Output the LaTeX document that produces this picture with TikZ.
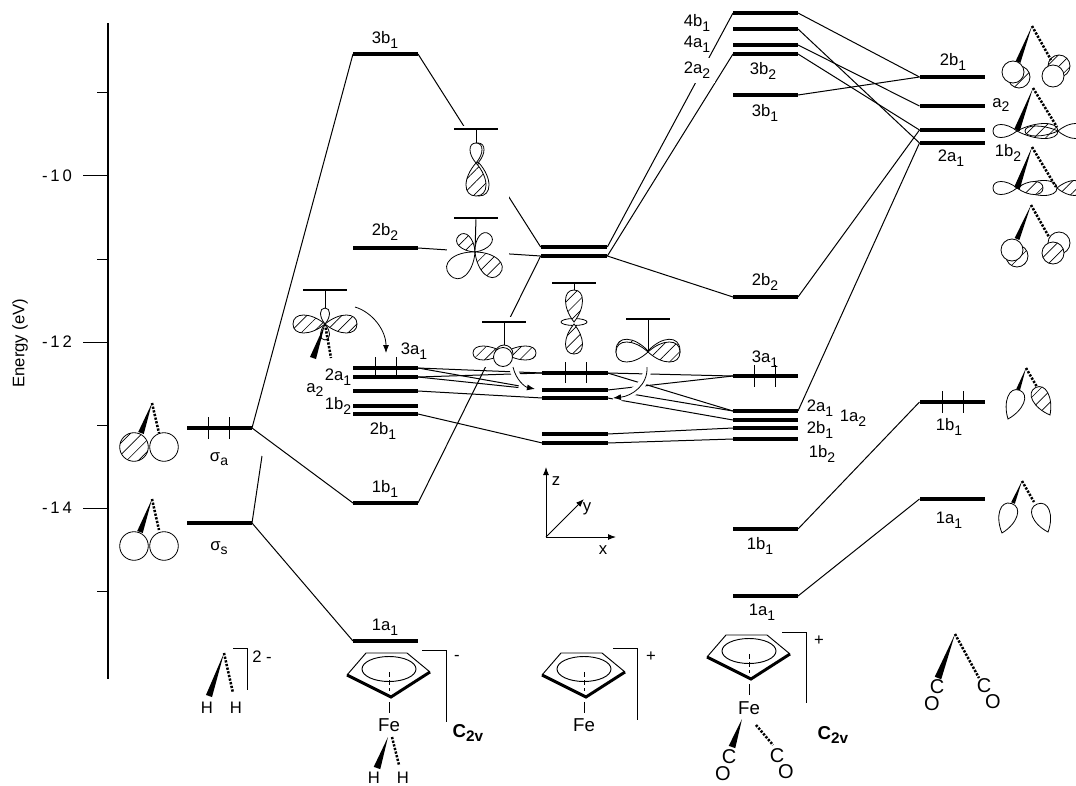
\documentclass[tikz,border=0pt]{standalone}
\usepackage{fontspec}
\setmainfont{Liberation Sans}
\usetikzlibrary{arrows.meta,calc,patterns.meta}
\newcounter{labn}
\tikzset{
  lev/.style={rectangle,fill=black,inner sep=0pt,outer sep=0pt,minimum width=48.75pt,minimum height=3pt},
  olev/.style={rectangle,fill=black,inner sep=0pt,outer sep=0pt,minimum width=33pt,minimum height=2.2pt},
  conn/.style={line width=.75pt},
  lbl/.style={inner sep=0pt,outer sep=0pt,font=\fontsize{12.5}{14}\selectfont},
  orb/.style={draw,line width=.6pt},
  wht/.style={fill=white},
  hat/.style={preaction={fill=white},pattern={Lines[angle=45,distance=6.2pt,line width=.5pt]}},
  dwedge/.style={line width=1.9pt,dash pattern=on 1.7pt off 1.1pt},
  tick/.style={line width=.75pt},
  spin/.style={line width=.6pt},
  brk/.style={line width=.6pt},
  curv/.style={line width=.6pt,-{Latex[length=6pt,width=4.5pt]},preaction={draw=white,line width=6pt,-}},
  axarr/.style={line width=.75pt,-{Latex[length=6pt,width=4.5pt]}}
}
\newcommand\ls[2]{#1\raisebox{-3.5pt}{\fontsize{10.5}{12}\selectfont #2}}
\newcommand\lab[3]{\stepcounter{labn}\node[lbl] (lab\thelabn) at (#1,#2) {#3};}
\newcommand\tfe{\fontsize{14}{16}\selectfont}
\newcommand\tco{\fontsize{15}{17}\selectfont}
\newcommand\lobe[6]{\begin{scope}[shift={(#2,#3)},rotate=#4]\path[orb,#1] (0,0) .. controls ({.45*#5},{#6/.75}) and ({#5},{#6/.75}) .. ({#5},0) .. controls ({#5},{-#6/.75}) and ({.45*#5},{-#6/.75}) .. (0,0) -- cycle;\end{scope}}
\newcommand\wg[5]{\fill ($(#1,#2)$) -- ($(#3,#4)!#5!90:(#1,#2)$) -- ($(#3,#4)!#5!-90:(#1,#2)$) -- cycle;}
\newcommand\dg[4]{\draw[dwedge] (#1,#2) -- (#3,#4);}
\newcommand\cpring[2]{\begin{scope}[shift={(#1,#2)}]
  \draw[line width=.7pt] (-42,6) -- (-23,-16) -- (18,-16) -- (41,3);
  \draw[line width=2.2pt,line join=miter] (-42,6) -- (2,28) -- (41,3);
  \draw[line width=.7pt] (0,0) ellipse [x radius=27,y radius=12.5];
  \draw[line width=.6pt,dash pattern=on 4pt off 2pt] (0,3) -- (0,22);
  \draw[line width=.7pt] (0,33) -- (0,44);
\end{scope}}
\begin{document}
\begin{tikzpicture}[x=.75pt,y=-.75pt]
\useasboundingbox (0,0) rectangle (1076,786);
\fill[white] (0,0) rectangle (1076,786);
% energy axis
\coordinate (axtop) at (108,23); \coordinate (axbot) at (108,679);
\draw[line width=1pt] (axtop) -- (axbot);
\foreach \yy in {92,259,425,591} \draw[tick] (97,\yy) -- (108,\yy);
\foreach \yy in {175,342,508} \draw[tick] (83,\yy) -- (108,\yy);
\lab{57}{176}{-\,1\,0}\lab{57}{342}{-\,1\,2}\lab{57}{508}{-\,1\,4}
\node[lbl,rotate=90] (elabel) at (20,343) {Energy (eV)};
% levels
\node[lev,minimum width=48.75pt] (sa) at (219.5,428) {};
\node[lev] (ss) at (219.5,523) {};
\node[lev] (b3b1) at (385.5,54) {};
\node[lev] (b2b2) at (385.5,248) {};
\node[lev] (b3a1) at (385.5,368) {};
\node[lev] (b2a1) at (385.5,377) {};
\node[lev] (ba2) at (385.5,391) {};
\node[lev] (b1b2) at (385.5,406) {};
\node[lev] (b2b1) at (385.5,414) {};
\node[lev] (b1b1) at (385.5,503) {};
\node[lev] (b1a1) at (385.5,641) {};
\node[lev,minimum width=50pt] (cu1) at (574,247) {};
\node[lev,minimum width=50pt] (cu2) at (574,256) {};
\node[lev,minimum width=49pt] (c3a1) at (575,373) {};
\node[lev,minimum width=49pt] (c2a1) at (575,390) {};
\node[lev,minimum width=49pt] (cb) at (575,398) {};
\node[lev,minimum width=49pt] (cc) at (575,434) {};
\node[lev,minimum width=49pt] (cd) at (575,443) {};
\node[lev] (d4b1) at (765.5,13) {};
\node[lev] (d4a1) at (765.5,29) {};
\node[lev] (d2a2) at (765.5,45) {};
\node[lev] (d3b2) at (765.5,54) {};
\node[lev] (d3b1) at (765.5,95) {};
\node[lev] (d2b2) at (765.5,297) {};
\node[lev] (d3a1) at (765.5,376) {};
\node[lev] (d2a1) at (765.5,411) {};
\node[lev] (d1a2) at (765.5,420) {};
\node[lev] (d2b1) at (765.5,428) {};
\node[lev] (d1b2) at (765.5,439) {};
\node[lev] (d1b1) at (765.5,529) {};
\node[lev] (d1a1) at (765.5,596) {};
\node[lev] (e2b1) at (952,77) {};
\node[lev] (ea2) at (952,106) {};
\node[lev] (e1b2) at (952,130) {};
\node[lev] (e2a1) at (952,143) {};
\node[lev] (e1b1) at (952,402) {};
\node[lev] (e1a1) at (952,499) {};
% connectors
\coordinate (ssfree) at (262,456);
\draw[conn] (sa.east) -- (b3b1.west);
\draw[conn] (sa.east) -- (b1b1.west);
\draw[conn] (ss.east) -- (ssfree);
\draw[conn] (ss.east) -- (b1a1.west);
\draw[conn] (b3b1.east) -- (cu1.west);
\draw[conn] (b2b2.east) -- (cu2.west);
\draw[conn] (b1b1.east) -- (cu2.west);
\draw[conn] (cu1.east) -- (d4b1.west);
\draw[conn] (cu2.east) -- (d3b2.west);
\draw[conn] (cu2.east) -- (d2b2.west);
\draw[conn] (d4b1.east) -- (e2b1.west);
\draw[conn] (d4a1.east) -- (e2a1.west);
\draw[conn] (d2a2.east) -- (ea2.west);
\draw[conn] (d3b2.east) -- (e1b2.west);
\draw[conn] (d3b1.east) -- (e2b1.west);
\draw[conn] (d2b2.east) -- (e1b2.west);
\draw[conn] (d2a1.east) -- (e2a1.west);
\draw[conn] (d1b1.east) -- (e1b1.west);
\draw[conn] (d1a1.east) -- (e1a1.west);
\draw[conn] (b3a1.east) -- (c3a1.west);
\draw[conn,shorten >=18pt] (b3a1.east) -- (c2a1.west);
\draw[conn] (b2a1.east) -- (c3a1.west);
\draw[conn,shorten >=18pt] (b2a1.east) -- (c2a1.west);
\draw[conn] (ba2.east) -- (cb.west);
\draw[conn] (b2b1.east) -- (cd.west);
\draw[conn] (c3a1.east) -- (d3a1.west);
\draw[conn] (c3a1.east) -- (d2a1.west);
\draw[conn] (c2a1.east) -- (d3a1.west);
\draw[conn,shorten <=20pt] (c2a1.east) -- (d2a1.west);
\draw[conn] (cb.east) -- (d1a2.west);
\draw[conn] (cc.east) -- (d2b1.west);
\draw[conn] (cd.east) -- (d1b2.west);
% white gaps in the connectors
\fill[white] (447,126) rectangle (509,306);
\fill[white] (470,317) rectangle (540,367);
\fill[white] (690,58) rectangle (715,83);
% curved arrows
\coordinate (a1s) at (513,367); \coordinate (a1e) at (535,389);
\coordinate (a2s) at (647,367); \coordinate (a2e) at (613,398);
\coordinate (a3s) at (355,307); \coordinate (a3e) at (386,353);
\draw[curv] (a1s) .. controls (516,380) and (525,387) .. (a1e);
\draw[curv] (a2s) .. controls (648,385) and (632,396) .. (a2e);
\draw[curv] (a3s) .. controls (372,312) and (386,330) .. (a3e);
% spins
\foreach \xx in {208,229} \draw[spin] (\xx,417) -- (\xx,439);
\foreach \xx in {375,396} \draw[spin] (\xx,357) -- (\xx,377);
\foreach \xx in {565,586} \draw[spin] (\xx,362) -- (\xx,383);
\foreach \xx in {754,775} \draw[spin] (\xx,365) -- (\xx,387);
\foreach \xx in {942,963} \draw[spin] (\xx,391) -- (\xx,413);
% labels on levels
\lab{385}{40}{\ls{3b}{1}}\lab{385}{232}{\ls{2b}{2}}\lab{414}{351}{\ls{3a}{1}}
\lab{338}{377}{\ls{2a}{1}}\lab{315}{390}{\ls{a}{2}}\lab{338}{406}{\ls{1b}{2}}
\lab{383}{431}{\ls{2b}{1}}\lab{385}{489}{\ls{1b}{1}}\lab{385}{627}{\ls{1a}{1}}
\lab{697}{23}{\ls{4b}{1}}\lab{697}{44}{\ls{4a}{1}}\lab{697}{70}{\ls{2a}{2}}
\lab{763}{71}{\ls{3b}{2}}\lab{765}{113}{\ls{3b}{1}}\lab{765}{282}{\ls{2b}{2}}
\lab{765}{359}{\ls{3a}{1}}\lab{820}{408}{\ls{2a}{1}}\lab{853}{418}{\ls{1a}{2}}
\lab{820}{430}{\ls{2b}{1}}\lab{822}{454}{\ls{1b}{2}}\lab{760}{546}{\ls{1b}{1}}
\lab{762}{612}{\ls{1a}{1}}
\lab{953}{62}{\ls{2b}{1}}\lab{1001}{105}{\ls{a}{2}}\lab{1008}{153}{\ls{1b}{2}}
\lab{951}{158}{\ls{2a}{1}}\lab{949}{427}{\ls{1b}{1}}\lab{949}{520}{\ls{1a}{1}}
\lab{219}{459}{\ls{σ}{a}}\lab{219}{548}{\ls{σ}{s}}
% H2 orbitals
\draw[orb,hat] (134,447) circle [radius=14.3];
\draw[orb,wht] (164,447) circle [radius=14.3];
\wg{152}{403}{141}{433}{2.2pt}\dg{152}{403}{159}{433}
\draw[orb,wht] (134,546) circle [radius=14.3];
\draw[orb,wht] (164,546) circle [radius=14.3];
\wg{152}{499}{140}{532}{2.2pt}\dg{152}{499}{159}{530}
% fragment orbitals
\node[olev] (o1) at (476,129) {};
\coordinate (o1c) at (476,143); \draw[conn] (o1) -- (o1c);
\lobe{wht}{478}{163}{90}{20}{6}\lobe{wht}{476}{163}{90}{20}{6}
\lobe{wht}{479}{163}{270}{33}{10}\lobe{hat}{476}{163}{270}{33}{10}
\node[olev] (o2) at (476,218) {};
\coordinate (o2c) at (475,252); \draw[conn] (o2) -- (o2c);
\lobe{hat}{475}{252}{135}{23}{7}\lobe{wht}{475}{252}{50}{23}{7}
\lobe{wht}{475}{252}{222}{34}{11}\lobe{hat}{475}{252}{318}{33}{10}
\node[olev] (o3) at (325,290) {};
\coordinate (o3c) at (325,310); \draw[conn] (o3) -- (o3c);
\lobe{wht}{325}{324}{270}{16}{4.5}
\wg{325}{324}{313}{358}{2.4pt}\dg{325}{324}{331}{358}
\lobe{hat}{325}{324}{180}{32}{9}\lobe{hat}{325}{324}{0}{32}{9}\lobe{wht}{325}{324}{90}{16}{4.5}
\node[olev] (o4) at (504,322) {};
\coordinate (o4c) at (504,345); \draw[conn] (o4) -- (o4c);
\lobe{hat}{504}{353}{180}{31}{7}\lobe{hat}{504}{353}{0}{32}{7}
\draw[orb,wht] (504,354) circle [radius=9];
\draw[orb,wht] (503,357) circle [radius=9.5];
\node[olev] (o5) at (574,283) {};
\coordinate (o5c) at (574,291); \draw[conn] (o5) -- (o5c);
\draw[orb,wht] (574,322) ellipse [x radius=13,y radius=3.5];
\lobe{hat}{574}{322}{90}{32}{8.5}\lobe{hat}{574}{324}{270}{30}{8.5}
\node[olev] (o6) at (648,319) {};
\coordinate (o6c) at (648,351); \draw[conn] (o6) -- (o6c);
\lobe{hat}{648}{351}{178}{32}{11}\lobe{wht}{648}{351}{2}{32}{11}
\lobe{wht}{648}{352}{180}{32}{10}\lobe{hat}{648}{352}{0}{32}{10}
% right-hand orbitals
\begin{scope}
\clip (0,0) rectangle (1076,786);
\draw[orb,hat] (1019,77) circle [radius=11];\draw[orb,wht] (1013,72) circle [radius=11];
\draw[orb,hat] (1059,66) circle [radius=11];\draw[orb,wht] (1053,76) circle [radius=11];
\wg{1032}{26}{1018}{62}{1.9pt}\dg{1032}{26}{1051}{60}
\lobe{wht}{1017}{131}{180}{24}{6.5}\lobe{hat}{1017}{131}{0}{41}{7.5}
\lobe{}{1058}{131}{180}{33}{5}\lobe{wht}{1058}{131}{0}{26}{7.5}
\wg{1033}{88}{1017}{130}{2.2pt}\dg{1033}{88}{1057}{127}
\lobe{wht}{1017}{188}{180}{24}{6.5}\lobe{wht}{1017}{188}{0}{40}{7.5}\lobe{hat}{1017}{188}{0}{26}{6.5}
\lobe{hat}{1057}{188}{0}{26}{7.5}
\wg{1032}{147}{1017}{188}{2.2pt}\dg{1032}{147}{1056}{187}
\draw[orb,hat] (1017,256) circle [radius=11];\draw[orb,wht] (1012,250) circle [radius=11];
\draw[orb,wht] (1059,243) circle [radius=11];\draw[orb,hat] (1053,253) circle [radius=11];
\wg{1031}{205}{1017}{239}{1.9pt}\dg{1031}{205}{1049}{237}
\wg{1026}{368}{1018}{390}{1.5pt}\dg{1026}{368}{1037}{387}
\lobe{wht}{1008}{419}{68}{31}{8.5}\lobe{hat}{1050}{415}{118}{31}{8.5}
\wg{1022}{481}{1013}{503}{1.5pt}\dg{1022}{481}{1034}{502}
\lobe{wht}{1002}{533}{72}{31}{9}\lobe{wht}{1048}{532}{111}{30}{9}
\end{scope}
% bottom molecules
\wg{224}{653}{209}{696}{2.4pt}\dg{224}{653}{233}{693}
\lab{207}{708}{H}\lab{236}{708}{H}
\draw[brk] (233,648) -- (247,648) -- (247,690);
\lab{262}{657}{2 -}
\cpring{389}{669}
\lab{389}{725}{\tfe Fe}
\wg{388}{737}{377}{768}{2.6pt}\dg{392}{737}{399}{765}
\lab{374}{778}{H}\lab{403}{778}{H}
\draw[brk] (422,650) -- (446,650) -- (446,722);
\lab{457}{658}{-}
\node[lbl,font=\fontsize{14}{16}\selectfont\bfseries] (c2a) at (468,733) {C\raisebox{-3.5pt}{\fontsize{11.5}{13}\selectfont 2v}};
\cpring{584}{669}
\lab{584}{725}{\tfe Fe}
\draw[brk] (613,648) -- (637,648) -- (637,720);
\lab{651}{657}{+}
\cpring{749}{651}
\lab{749}{708}{\tfe Fe}
\wg{742}{719}{732}{747}{2.6pt}\dg{756}{725}{773}{745}
\lab{729}{757}{\tco C}\lab{723}{774}{\tco O}\lab{777}{756}{\tco C}\lab{786}{772}{\tco O}
\draw[brk] (782,632) -- (806,632) -- (806,703);
\lab{819}{641}{+}
\node[lbl,font=\fontsize{14}{16}\selectfont\bfseries] (c2b) at (833,735) {C\raisebox{-3.5pt}{\fontsize{11.5}{13}\selectfont 2v}};
\wg{955}{634}{938}{678}{2.6pt}\dg{955}{634}{979}{678}
\lab{937}{687}{\tco C}\lab{932}{704}{\tco O}\lab{984}{686}{\tco C}\lab{993}{702}{\tco O}
% axes
\coordinate (org) at (546,537); \coordinate (zend) at (546,467);
\coordinate (xend) at (616,537); \coordinate (yend) at (584,499);
\draw[axarr] (org) -- (zend);\draw[axarr] (org) -- (xend);\draw[axarr] (org) -- (yend);
\lab{556}{481}{z}\lab{587}{509}{y}\lab{603}{550}{x}
\end{tikzpicture}
\end{document}
